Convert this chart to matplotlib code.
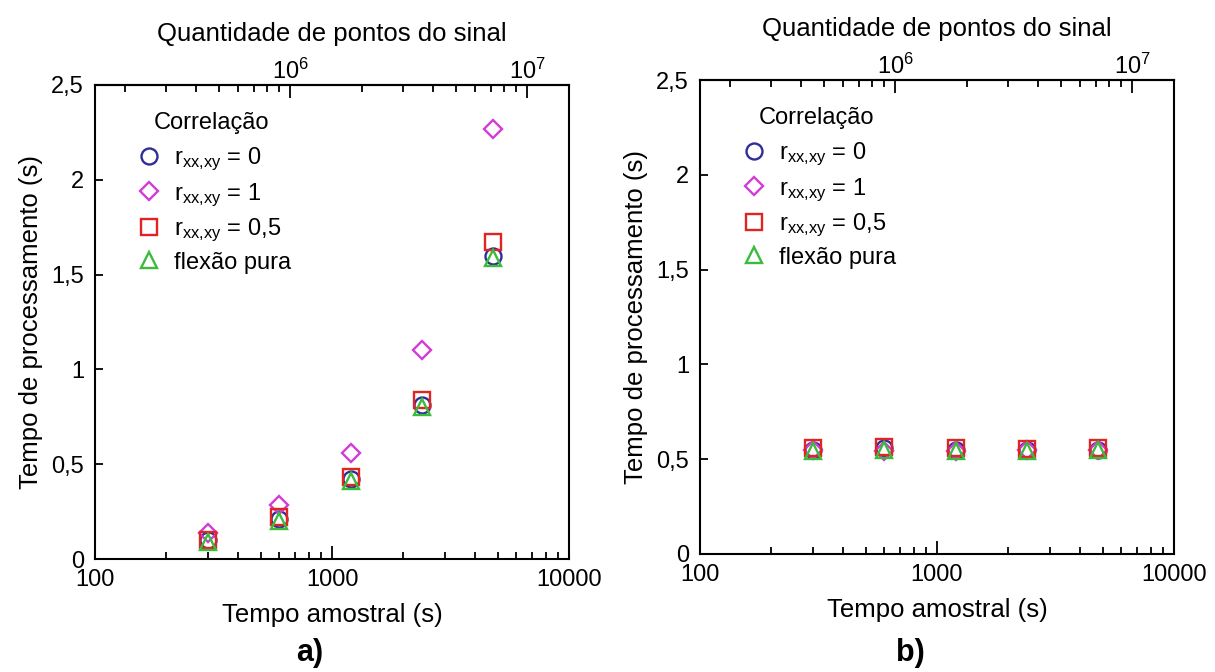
import matplotlib
matplotlib.use("Agg")
import matplotlib.pyplot as plt
from matplotlib.ticker import FixedLocator, FixedFormatter, NullFormatter, LogLocator

plt.rcParams['font.family'] = ['Liberation Sans', 'DejaVu Sans']
plt.rcParams['mathtext.fontset'] = 'custom'
plt.rcParams['mathtext.rm'] = 'Liberation Sans'
plt.rcParams['mathtext.it'] = 'Liberation Sans:italic'
plt.rcParams['mathtext.bf'] = 'Liberation Sans:bold'
plt.rcParams['xtick.labelsize'] = 17
plt.rcParams['ytick.labelsize'] = 17
plt.rcParams['xtick.direction'] = 'in'
plt.rcParams['ytick.direction'] = 'in'

# Sampling time (s) and processing time (s) per correlation case
tempo_amostral = [300, 600, 1200, 2400, 4800]

# a) processing time grows with signal length
a_r0 = [0.10, 0.21, 0.42, 0.81, 1.60]
a_r1 = [0.135, 0.285, 0.56, 1.10, 2.27]
a_r05 = [0.10, 0.22, 0.43, 0.84, 1.67]
a_flexao = [0.09, 0.20, 0.41, 0.80, 1.59]

# b) processing time roughly constant
b_r0 = [0.55, 0.56, 0.55, 0.55, 0.55]
b_r1 = [0.55, 0.545, 0.545, 0.55, 0.55]
b_r05 = [0.56, 0.565, 0.56, 0.555, 0.56]
b_flexao = [0.545, 0.55, 0.545, 0.545, 0.55]

series_labels = [r'r$_\mathregular{xx{,}xy}$ = 0', r'r$_\mathregular{xx{,}xy}$ = 1',
                 r'r$_\mathregular{xx{,}xy}$ = 0,5', 'flexão pura']
legend_title = 'Correlação'

y_ticks = [0, 0.5, 1, 1.5, 2, 2.5]
y_tick_labels = ['0', '0,5', '1', '1,5', '2', '2,5']
x_ticks = [100, 1000, 10000]
x_tick_labels = ['100', '1000', '10000']
top_ticks = [1e6, 1e7]
top_tick_labels = [r'$\mathregular{10^{6}}$', r'$\mathregular{10^{7}}$']
top_minor_ticks = [m * 10 ** e for e in (5, 6) for m in range(2, 10)]

pontos_por_segundo = 1500  # signal points per second of sampling

styles = [
    dict(marker='o', ms=11.5, mec='#2e2e96'),
    dict(marker='D', ms=9.2, mec='#d23cd2'),
    dict(marker='s', ms=11.5, mec='#e02424'),
    dict(marker='^', ms=11.5, mec='#3cba3c'),
]

fig = plt.figure(figsize=(12.15, 6.72), dpi=100)
ax_a = fig.add_axes([95 / 1215, (672 - 559) / 672, 474 / 1215, 474 / 672])
ax_b = fig.add_axes([700 / 1215, (672 - 554) / 672, 474 / 1215, 474 / 672])


def draw_panel(ax, data, tag, tag_x):
    handles = []
    for vals, st in zip(data, styles):
        h, = ax.plot(tempo_amostral, vals, linestyle='none', mfc='none',
                     mew=1.7, **st)
        handles.append(h)

    ax.set_xscale('log')
    ax.set_xlim(100, 10000)
    ax.set_ylim(0, 2.5)

    ax.set_xticks(x_ticks, x_tick_labels)
    ax.xaxis.set_minor_locator(LogLocator(base=10, subs=range(2, 10)))
    ax.xaxis.set_minor_formatter(NullFormatter())
    ax.set_yticks(y_ticks, y_tick_labels)

    for s in ax.spines.values():
        s.set_linewidth(1.5)
    ax.tick_params(axis='x', which='major', direction='in', length=9.5,
                   width=1.3, labelsize=17, pad=7.5, top=False)
    ax.tick_params(axis='x', which='minor', direction='in', length=5,
                   width=1.3, top=False)
    ax.tick_params(axis='y', which='major', direction='in', length=6,
                   width=1.3, labelsize=17, pad=8, right=False)

    ax.set_xlabel('Tempo amostral (s)', fontsize=18.5, labelpad=8)
    ax.set_ylabel('Tempo de processamento (s)', fontsize=18.5, labelpad=6)

    sec = ax.secondary_xaxis('top', functions=(lambda x: x * pontos_por_segundo,
                                               lambda x: x / pontos_por_segundo))
    sec.xaxis.set_major_locator(FixedLocator(top_ticks))
    sec.xaxis.set_major_formatter(FixedFormatter(top_tick_labels))
    sec.xaxis.set_minor_locator(FixedLocator(top_minor_ticks))
    sec.xaxis.set_minor_formatter(NullFormatter())
    sec.spines['top'].set_linewidth(1.5)
    sec.tick_params(axis='x', which='major', direction='in', length=9.5,
                    width=1.3, labelsize=17, pad=0.5)
    sec.tick_params(axis='x', which='minor', direction='in', length=5,
                    width=1.3)
    for lab in sec.xaxis.get_ticklabels():
        lab.set_fontsize(17)
    sec.set_xlabel('Quantidade de pontos do sinal', fontsize=18.5, labelpad=13)

    ax.text(59 / 474, 1 - 38 / 474, legend_title, transform=ax.transAxes,
            fontsize=17, ha='left', va='center')
    ax.legend(handles, series_labels, loc='upper left',
              bbox_to_anchor=(42 / 474, 1 - 61 / 474), frameon=False,
              fontsize=17, handlelength=1.0, handletextpad=0.55,
              labelspacing=0.33, borderpad=0, borderaxespad=0,
              numpoints=1)

    fig.text(tag_x / 1215, 1 - 653 / 672, tag, fontsize=22, fontweight='bold',
             ha='center', va='center')


draw_panel(ax_a, [a_r0, a_r1, a_r05, a_flexao], 'a)', 310)
draw_panel(ax_b, [b_r0, b_r1, b_r05, b_flexao], 'b)', 910)

fig.savefig('out.png', dpi=100)
